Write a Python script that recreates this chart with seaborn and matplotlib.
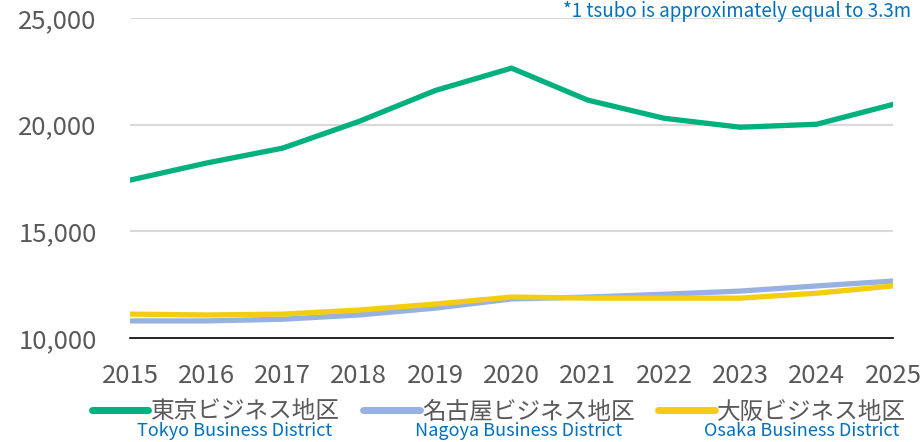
import matplotlib
matplotlib.use("Agg")
import matplotlib.pyplot as plt
from matplotlib.lines import Line2D
import seaborn as sns
import pandas as pd

# ===== data =====
years = [2015, 2016, 2017, 2018, 2019, 2020, 2021, 2022, 2023, 2024, 2025]
tokyo = [17400, 18200, 18900, 20150, 21600, 22650, 21150, 20300, 19880, 20020, 20950]
nagoya = [10800, 10800, 10880, 11080, 11400, 11830, 11920, 12050, 12200, 12440, 12670]
osaka = [11120, 11080, 11120, 11310, 11590, 11920, 11870, 11870, 11870, 12100, 12440]

names_jp = ["東京ビジネス地区", "名古屋ビジネス地区", "大阪ビジネス地区"]
names_en = ["Tokyo Business District", "Nagoya Business District", "Osaka Business District"]
colors = ["#00B07E", "#97B1E0", "#F4CC12"]
yticks = [10000, 15000, 20000, 25000]
note = "*1 tsubo is approximately equal to 3.3m"

df = pd.DataFrame({
    "year": years * 3,
    "value": tokyo + nagoya + osaka,
    "area": [names_jp[0]] * len(years) + [names_jp[1]] * len(years) + [names_jp[2]] * len(years),
})

# ===== style =====
sns.set_style("white")
plt.rcParams["font.family"] = ["Noto Sans CJK JP", "DejaVu Sans"]
gray = "#595959"
blue = "#0070C0"

fig = plt.figure(figsize=(9.24, 4.42), dpi=100)
ax = fig.add_axes([130 / 924, 104 / 442, 763 / 924, 320 / 442])

sns.lineplot(data=df, x="year", y="value", hue="area", hue_order=names_jp,
             palette=colors, linewidth=3.8, ax=ax, legend=False)

ax.set_xlim(years[0], years[-1])
ax.set_ylim(10000, 25000)
ax.set_xticks(years)
ax.set_yticks(yticks)
ax.set_yticklabels([f"{v:,}" for v in yticks])
ax.set_xlabel("")
ax.set_ylabel("")

for v in yticks[1:]:
    ax.axhline(v, color="#D9D9D9", linewidth=1.5, zorder=0)

for s in ["top", "right", "left"]:
    ax.spines[s].set_visible(False)
ax.spines["bottom"].set_color("black")
ax.spines["bottom"].set_linewidth(1.2)
ax.tick_params(axis="x", direction="out", length=6, width=1, color="black",
               labelsize=18.5, labelcolor=gray, pad=12)
ax.tick_params(axis="y", length=0, labelsize=18.5, labelcolor=gray, pad=24)
for lbl in ax.get_xticklabels() + ax.get_yticklabels():
    lbl.set_clip_on(False)

# note at top right
fig.text(911 / 924, 1 - 1 / 442, note, ha="right", va="top", fontsize=13.5, color=blue)

# ===== legend =====
handles = [Line2D([0], [0], color=c, linewidth=5) for c in colors]
leg = fig.legend(handles, names_jp, loc="center", bbox_to_anchor=(499 / 924, 1 - 412 / 442),
                 ncol=3, frameon=False, fontsize=17, handlelength=2.4, handletextpad=0.1,
                 columnspacing=1.0, borderaxespad=0, borderpad=0)
for t in leg.get_texts():
    t.set_color(gray)

fig.canvas.draw()
inv = fig.transFigure.inverted()
for t, en in zip(leg.get_texts(), names_en):
    bb = t.get_window_extent()
    cx, _ = inv.transform(((bb.x0 + bb.x1) / 2 - 10, 0))
    fig.text(cx, 1 - 431 / 442, en, ha="center", va="center", fontsize=13, color=blue)

fig.savefig("out.png", dpi=100)
